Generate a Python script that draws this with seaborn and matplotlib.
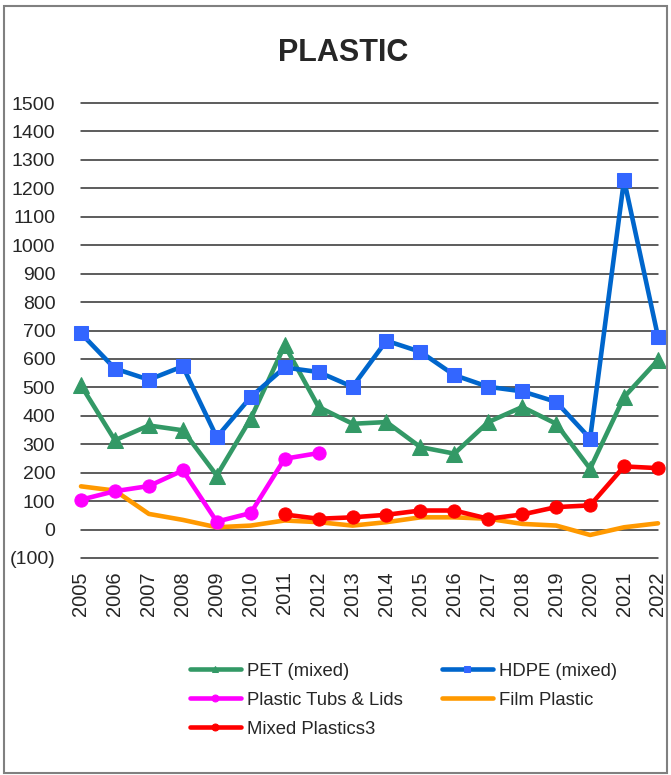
import numpy as np
import pandas as pd
import matplotlib
matplotlib.use('Agg')
import matplotlib.pyplot as plt
import matplotlib.ticker as mticker
from matplotlib.patches import Rectangle
import seaborn as sns

# values
years = list(range(2005, 2023))
pet = [507, 314, 366, 349, 190, 390, 648, 431, 372, 378, 290, 267,
       378, 431, 372, 214, 466, 596]
hdpe = [690, 566, 527, 574, 325, 466, 570, 554, 502, 664, 625, 543,
        502, 486, 449, 320, 1230, 678]
tubs = [105, 135, 153, 208, 28, 58, 249, 269,
        None, None, None, None, None, None, None, None, None, None]
film = [152, 137, 55, 34, 8, 14, 32, 26, 14, 26, 43, 43,
        38, 20, 14, -19, 8, 22]
mixed = [None, None, None, None, None, None, 53, 38, 43, 52, 67, 67,
         38, 53, 79, 85, 222, 216]

y_ticks = list(range(-100, 1501, 100))

series = [
    # label, values, line colour, marker, marker colour, marker size
    ('PET (mixed)', pet, '#339966', '^', '#339966', 11),
    ('HDPE (mixed)', hdpe, '#0066CC', 's', '#3366FF', 10.5),
    ('Plastic Tubs & Lids', tubs, '#FF00FF', 'o', '#FF00FF', 9.5),
    ('Film Plastic', film, '#FF9900', None, '#FF9900', 0),
    ('Mixed Plastics3', mixed, '#FF0000', 'o', '#FF0000', 9.5),
]

sns.set_style('white')
plt.rcParams['font.family'] = ['Liberation Sans', 'DejaVu Sans']

fig = plt.figure(figsize=(6.71, 7.75), dpi=100)
ax = fig.add_axes([81 / 671, 217 / 775, 577 / 671, 455 / 775])

# draw order: film underneath, then the rest
for name, vals, col, mk, mcol, ms in [series[3], series[2], series[4], series[0], series[1]]:
    df = pd.DataFrame({'year': years, 'value': pd.array(vals, dtype='Float64')}).dropna()
    df['value'] = df['value'].astype(float)
    sns.lineplot(data=df, x='year', y='value', ax=ax, color=col, lw=3.3,
                 marker=mk, markersize=ms, markerfacecolor=mcol,
                 markeredgecolor=mcol, label=name, zorder=3)
for ln in ax.get_lines():
    ln.set_clip_on(False)

ax.set_xlim(2005, 2022)
ax.set_ylim(-100, 1500)
ax.set_xticks(years)
ax.set_xticklabels([str(y) for y in years], rotation=90, fontsize=14.5)
ax.set_yticks(y_ticks)
ax.yaxis.set_major_formatter(mticker.FuncFormatter(
    lambda v, p: f'({abs(int(v))})' if v < 0 else f'{int(v)}'))
ax.tick_params(axis='y', labelsize=14, pad=15)
ax.tick_params(axis='x', pad=6)
ax.grid(axis='y', color='#303030', lw=1.1)
ax.set_axisbelow(True)
for gl in ax.get_ygridlines():
    gl.set_clip_on(False)
for s in ax.spines.values():
    s.set_visible(False)
ax.set_xlabel('')
ax.set_ylabel('')

handles, labels = ax.get_legend_handles_labels()
# legend fills column by column, so list the entries so that rows read like the reference
order = ['PET (mixed)', 'Plastic Tubs & Lids', 'Mixed Plastics3', 'HDPE (mixed)', 'Film Plastic']
hmap = dict(zip(labels, handles))
ax.legend_.remove()
leg = fig.legend([hmap[l] for l in order], order, ncol=2, frameon=False,
                 fontsize=13.3, loc='upper left', bbox_to_anchor=(173 / 671, 1 - 646 / 775),
                 handlelength=2.8, handletextpad=0.3, columnspacing=2.1,
                 labelspacing=0.65)
for h in leg.legend_handles:
    h.set_markersize(5)

fig.text(0.512, 1 - 53 / 775, 'PLASTIC', ha='center', va='center',
         fontsize=22, fontweight='bold')
fig.patches.append(Rectangle((0.006, 0.003), 0.988, 0.989, transform=fig.transFigure,
                             fill=False, edgecolor='#808080', lw=1.5))

fig.savefig('out.png', dpi=100)
